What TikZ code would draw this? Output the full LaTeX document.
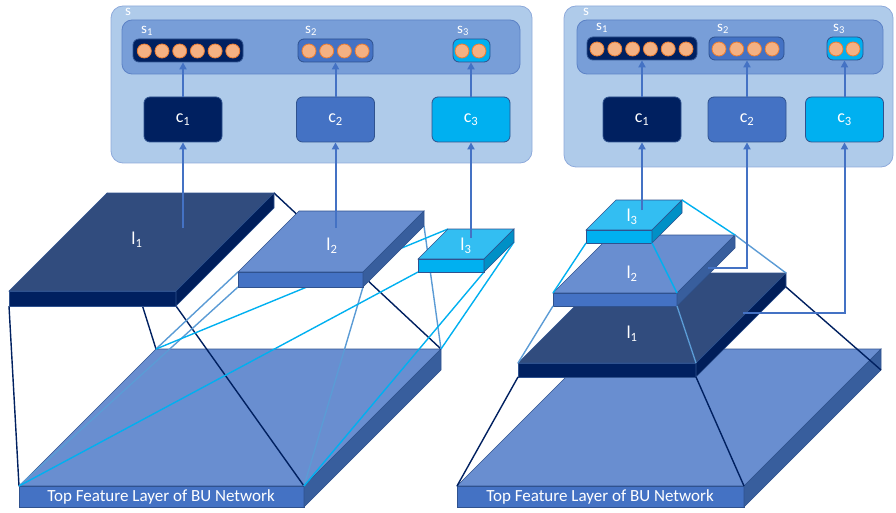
\documentclass[tikz,border=0pt]{standalone}
\usepackage{fontspec}
\setmainfont{Carlito}
\usepackage{tikz}
\usetikzlibrary{arrows.meta}

\definecolor{navy}{HTML}{002060}
\definecolor{midblue}{HTML}{4472C4}
\definecolor{cyanblue}{HTML}{00B0F0}
\definecolor{lightline}{HTML}{5B9BD5}
\definecolor{souter}{HTML}{AFCBEA}
\definecolor{sedge}{HTML}{8EAADB}
\definecolor{sinner}{HTML}{789ED8}
\definecolor{sinedge}{HTML}{5C82C6}
\definecolor{edgeblue}{HTML}{2F528F}
\definecolor{ballfill}{HTML}{F4B183}
\definecolor{balledge}{HTML}{ED7D31}
\definecolor{topnavy}{HTML}{314C7E}
\definecolor{sidenavy}{HTML}{001E5A}
\definecolor{topmid}{HTML}{698ED0}
\definecolor{sidemid}{HTML}{385E9D}
\definecolor{topcyan}{HTML}{33BEF2}
\definecolor{sidecyan}{HTML}{0090C6}

\newcommand{\slabat}[6]{%
  \coordinate (#1a) at (#2,#3);
  \coordinate (#1b) at ({#2+#4},#3);
  \coordinate (#1c) at ({#2+#4+#5},{#3-#5});
  \coordinate (#1d) at ({#2+#5},{#3-#5});
  \coordinate (#1e) at (#2,{#3+#6});
  \coordinate (#1f) at ({#2+#4},{#3+#6});
  \coordinate (#1g) at ({#2+#4+#5},{#3-#5+#6});}
\newcommand{\slab}[4]{%
  \filldraw[slabedge,fill=#2] (#1a) -- (#1b) -- (#1c) -- (#1d) -- cycle;
  \filldraw[slabedge,fill=#3] (#1a) -- (#1b) -- (#1f) -- (#1e) -- cycle;
  \filldraw[slabedge,fill=#4] (#1b) -- (#1c) -- (#1g) -- (#1f) -- cycle;}

\begin{document}
\begin{tikzpicture}[x=1pt, y=-1pt,
  lab/.style={text=white, inner sep=0pt, font=\fontsize{18}{18}\selectfont},
  small/.style={text=white, inner sep=0pt, font=\fontsize{15}{15}\selectfont},
  outer/.style={draw=sedge, fill=souter, rounded corners=12pt, line width=0.8pt},
  inner/.style={draw=sinedge, fill=sinner, rounded corners=10pt, line width=0.8pt, minimum height=54pt},
  strip/.style={draw=edgeblue, rounded corners=6pt, minimum height=23pt, line width=0.8pt},
  ball/.style={circle, draw=balledge, fill=ballfill, minimum size=14pt, inner sep=0pt, line width=0.8pt},
  cbox/.style={draw=edgeblue, rounded corners=6pt, minimum width=78pt, minimum height=45pt, line width=0.8pt, text=white, font=\fontsize{18}{18}\selectfont},
  arr/.style={draw=midblue, line width=2pt, -{Triangle[length=7pt,width=7pt]}},
  link/.style={line width=1.4pt},
  slabedge/.style={draw=edgeblue, line width=0.6pt}]
  \useasboundingbox (0,0) rectangle (896,513);

  % left: s and c
  \node[outer, minimum width=421pt, minimum height=157pt] (SL) at (321.5,84.5) {};
  \node[small] (sL) at (128,12) {s};
  \node[inner, minimum width=398pt] (inL) at (321,47) {};
  \node[strip, fill=navy, minimum width=110pt] (s1L) at (188,50.5) {};
  \node[strip, fill=midblue, minimum width=75pt] (s2L) at (335.5,50.5) {};
  \node[strip, fill=cyanblue, minimum width=37pt] (s3L) at (471.5,50.5) {};
  \foreach \i in {0,...,5} \node[ball] (b1L\i) at ({144.3+17.7*\i},51) {};
  \foreach \i in {0,...,3} \node[ball] (b2L\i) at ({309+17.7*\i},51) {};
  \foreach \i in {0,1} \node[ball] (b3L\i) at ({462+17*\i},51) {};
  \node[small] (s1Lt) at (147,31) {s\textsubscript{1}};
  \node[small] (s2Lt) at (311,31) {s\textsubscript{2}};
  \node[small] (s3Lt) at (463,31) {s\textsubscript{3}};
  \node[cbox, fill=navy] (c1L) at (183,119.5) {c\textsubscript{1}};
  \node[cbox, fill=midblue] (c2L) at (335.5,119.5) {c\textsubscript{2}};
  \node[cbox, fill=cyanblue] (c3L) at (471,119.5) {c\textsubscript{3}};

  % right: s and c
  \node[outer, minimum width=329pt, minimum height=161pt] (SR) at (728.5,86.5) {};
  \node[small] (sR) at (586,12) {s};
  \node[inner, minimum width=306pt] (inR) at (730,47) {};
  \node[strip, fill=navy, minimum width=110pt] (s1R) at (642,48.5) {};
  \node[strip, fill=midblue, minimum width=75pt] (s2R) at (746.5,48.5) {};
  \node[strip, fill=cyanblue, minimum width=36pt] (s3R) at (845,48.5) {};
  \foreach \i in {0,...,5} \node[ball] (b1R\i) at ({597+17.8*\i},49) {};
  \foreach \i in {0,...,3} \node[ball] (b2R\i) at ({719+17.7*\i},49) {};
  \foreach \i in {0,1} \node[ball] (b3R\i) at ({836+17*\i},49) {};
  \node[small] (s1Rt) at (602,28) {s\textsubscript{1}};
  \node[small] (s2Rt) at (723,29) {s\textsubscript{2}};
  \node[small] (s3Rt) at (839,29) {s\textsubscript{3}};
  \node[cbox, fill=navy] (c1R) at (642,119.5) {c\textsubscript{1}};
  \node[cbox, fill=midblue] (c2R) at (747,119.5) {c\textsubscript{2}};
  \node[cbox, fill=cyanblue] (c3R) at (844.5,119.5) {c\textsubscript{3}};

  % layers
  \slabat{bL}{19}{486}{285}{137}{21}
  \slabat{l1L}{9}{291}{167}{98}{15}
  \slabat{l2L}{238}{272}{125}{61}{15}
  \slabat{l3L}{418}{259}{66}{30}{13}
  \slabat{bR}{457}{486}{287}{137}{21}
  \slabat{l1R}{518}{363}{178}{90}{14}
  \slabat{l2R}{553}{293}{124}{58}{13}
  \slabat{l3R}{586}{230}{66}{30}{13}

  \slab{bL}{topmid}{midblue}{sidemid}
  \draw[link, navy] (l1Le) -- (bLa) (l1Lf) -- (bLb) (l1Ld) -- (bLd) (l1Lc) -- (bLc);
  \draw[link, lightline] (l2La) -- (bLd) (l2Le) -- (bLa) (l2Lf) -- (bLb) (l2Lg) -- (bLc);
  \draw[link, cyanblue] (l3Ld) -- (bLd) (l3Le) -- (bLa) (l3Lf) -- (bLb) (l3Lg) -- (bLc);
  \slab{l1L}{topnavy}{navy}{sidenavy}
  \slab{l2L}{topmid}{midblue}{sidemid}
  \slab{l3L}{topcyan}{cyanblue}{sidecyan}

  \slab{bR}{topmid}{midblue}{sidemid}
  \slab{l1R}{topnavy}{navy}{sidenavy}
  \slab{l2R}{topmid}{midblue}{sidemid}
  \slab{l3R}{topcyan}{cyanblue}{sidecyan}
  \draw[link, cyanblue] (l3Re) -- (l2Ra) (l3Rf) -- (l2Rb) (l3Rc) -- (l2Rc);
  \draw[link, lightline] (l2Re) -- (l1Ra) (l2Rf) -- (l1Rb) (l2Rc) -- (l1Rc);
  \draw[link, navy] (l1Re) -- (bRa) (l1Rf) -- (bRb) (l1Rg) -- (bRg);

  \node[lab] (l1Lt) at (137,240) {l\textsubscript{1}};
  \node[lab] (l2Lt) at (332,246) {l\textsubscript{2}};
  \node[lab] (l3Lt) at (466,246) {l\textsubscript{3}};
  \node[lab] (l3Rt) at (632,217) {l\textsubscript{3}};
  \node[lab] (l2Rt) at (632,274) {l\textsubscript{2}};
  \node[lab] (l1Rt) at (632,334) {l\textsubscript{1}};
  \node[lab, font=\fontsize{17}{17}\selectfont] (bLt) at (161,497) {Top Feature Layer of BU Network};
  \node[lab, font=\fontsize{17}{17}\selectfont] (bRt) at (600,497) {Top Feature Layer of BU Network};

  % arrows
  \coordinate (a1L) at (183,228);
  \coordinate (a2L) at (335.5,228);
  \coordinate (a3L) at (471,238);
  \coordinate (a1R) at (642,210);
  \coordinate (a2R) at (708,268);
  \coordinate (a3R) at (743,313);
  \draw[arr] (a1L) -- (a1L |- c1L.south);
  \draw[arr] (a2L) -- (a2L |- c2L.south);
  \draw[arr] (a3L) -- (a3L |- c3L.south);
  \draw[arr] (a1R) -- (a1R |- c1R.south);
  \draw[arr] (a2R) -| (c2R.south);
  \draw[arr] (a3R) -| (c3R.south);
  \draw[arr] (c1L.north) -- (c1L.north |- s1L.south);
  \draw[arr] (c2L.north) -- (c2L.north |- s2L.south);
  \draw[arr] (c3L.north) -- (c3L.north |- s3L.south);
  \draw[arr] (c1R.north) -- (c1R.north |- s1R.south);
  \draw[arr] (c2R.north) -- (c2R.north |- s2R.south);
  \draw[arr] (c3R.north) -- (c3R.north |- s3R.south);
\end{tikzpicture}
\end{document}
